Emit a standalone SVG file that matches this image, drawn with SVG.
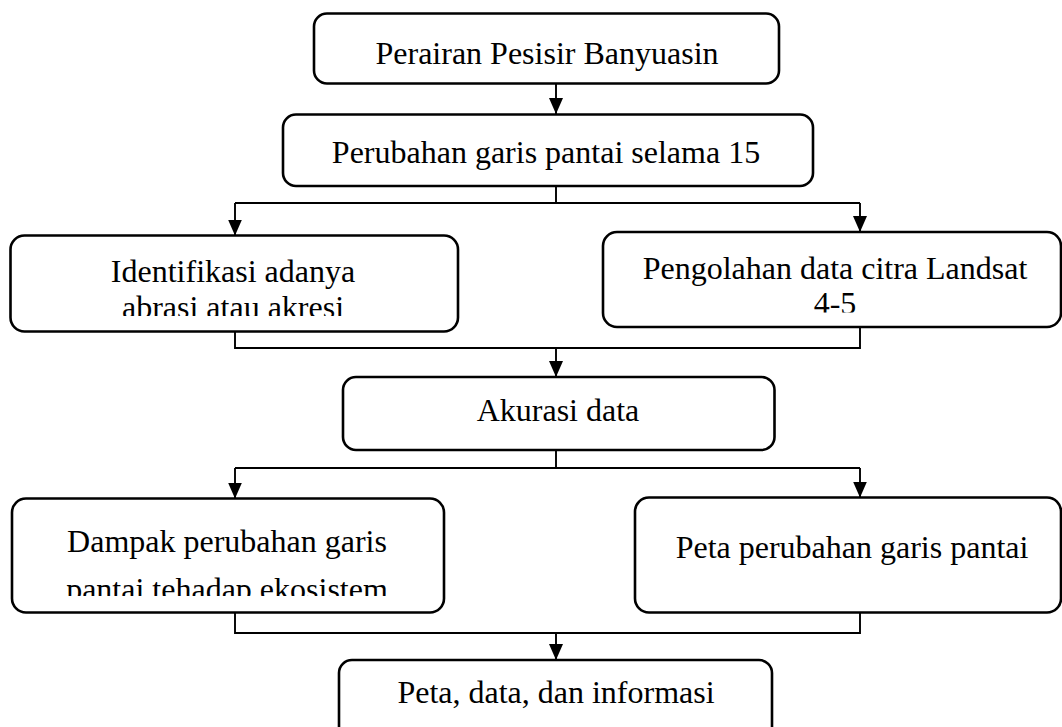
<svg xmlns="http://www.w3.org/2000/svg" width="1062" height="727" viewBox="0 0 1062 727">
<style>
.box{fill:#fff;stroke:#000;stroke-width:2.6}
.t{font-family:"Liberation Serif","Times New Roman",serif;font-size:32px;fill:#000;text-anchor:middle}
.c{fill:none;stroke:#000;stroke-width:1.9}
</style>
<defs>
<marker id="ah" markerUnits="userSpaceOnUse" markerWidth="17" markerHeight="16" viewBox="0 0 17 16" refX="16" refY="8" orient="auto">
<path d="M0,1 L16,8 L0,15 Z" fill="#000"/>
</marker>
<clipPath id="clip3"><rect x="10" y="235" width="448" height="81"/></clipPath>
<clipPath id="clip4"><rect x="603" y="232" width="460" height="80.5"/></clipPath>
<clipPath id="clip6"><rect x="12" y="498" width="432" height="98"/></clipPath>
</defs>
<rect width="1062" height="727" fill="#fff"/>
<g id="connectors">
<line class="c" x1="556" y1="83" x2="556" y2="114" marker-end="url(#ah)"/>
<path class="c" d="M556,186 V203 M235,203 H860"/>
<line class="c" x1="235" y1="203" x2="235" y2="235.5" marker-end="url(#ah)"/>
<line class="c" x1="860" y1="203" x2="860" y2="232" marker-end="url(#ah)"/>
<path class="c" d="M235,332 V348 H860 V327"/>
<line class="c" x1="556" y1="348" x2="556" y2="377" marker-end="url(#ah)"/>
<path class="c" d="M556,450 V468 M235,468 H860"/>
<line class="c" x1="235" y1="468" x2="235" y2="498.5" marker-end="url(#ah)"/>
<line class="c" x1="860" y1="468" x2="860" y2="497.5" marker-end="url(#ah)"/>
<path class="c" d="M235,613 V633 H860 V613"/>
<line class="c" x1="556" y1="633" x2="556" y2="660" marker-end="url(#ah)"/>
</g>
<g id="n1">
<rect class="box" x="314" y="13.5" width="465" height="70" rx="13"/>
<text class="t" x="547" y="64">Perairan Pesisir Banyuasin</text>
</g>
<g id="n2">
<rect class="box" x="283" y="114.5" width="530" height="71.5" rx="13"/>
<text class="t" x="546" y="163">Perubahan garis pantai selama 15</text>
</g>
<g id="n3">
<rect class="box" x="10.5" y="235.5" width="447.5" height="96" rx="14"/>
<g clip-path="url(#clip3)">
<text class="t" x="233" y="282">Identifikasi adanya</text>
<text class="t" x="233" y="318">abrasi atau akresi</text>
</g>
</g>
<g id="n4">
<rect class="box" x="603" y="232" width="458" height="95" rx="14"/>
<g clip-path="url(#clip4)">
<text class="t" x="835" y="279">Pengolahan data citra Landsat</text>
<text class="t" x="835" y="314">4-5</text>
</g>
</g>
<g id="n5">
<rect class="box" x="343" y="377" width="431.5" height="73" rx="13"/>
<text class="t" x="558" y="421">Akurasi data</text>
</g>
<g id="n6">
<rect class="box" x="12" y="498.5" width="432" height="114" rx="14"/>
<g clip-path="url(#clip6)">
<text class="t" x="227" y="552">Dampak perubahan garis</text>
<text class="t" x="227" y="599.5">pantai tehadap ekosistem</text>
</g>
</g>
<g id="n7">
<rect class="box" x="635" y="497.5" width="426" height="115" rx="14"/>
<text class="t" x="852" y="558">Peta perubahan garis pantai</text>
</g>
<g id="n8">
<rect class="box" x="339" y="660" width="433" height="90" rx="13"/>
<text class="t" x="556" y="703">Peta, data, dan informasi</text>
</g>
</svg>
